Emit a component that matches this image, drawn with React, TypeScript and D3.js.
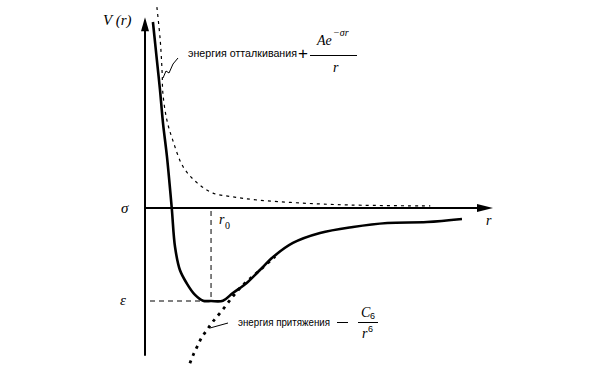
import React from "react";
import * as d3 from "d3";

// Full potential V(r) (solid curve) (r in units of r0, V in units of |ε|)
const solidR = [0.12, 0.18, 0.227, 0.273, 0.333, 0.405, 0.455, 0.53, 0.632, 0.758, 0.879, 1.0, 1.18, 1.33, 1.54, 1.74, 1.94, 2.24, 2.65, 3.15, 3.67, 4.27, 4.8];
const solidV = [2.0, 1.59, 1.27, 0.91, 0.55, 0.0, -0.42, -0.67, -0.81, -0.935, -0.997, -1.0, -0.997, -0.914, -0.806, -0.667, -0.527, -0.376, -0.269, -0.204, -0.161, -0.151, -0.118];

// Repulsion energy (thin dashed curve)
const repR = [0.18, 0.23, 0.26, 0.27, 0.33, 0.42, 0.58, 0.79, 1.03, 1.33, 1.7, 2.35, 3.11, 4.32];
const repV = [2.16, 1.81, 1.45, 1.24, 0.95, 0.73, 0.44, 0.27, 0.16, 0.12, 0.086, 0.054, 0.032, 0.022];

// Attraction energy (thick dotted curve)
const attR = [0.68, 0.73, 0.79, 0.86, 0.94, 1.03, 1.17, 1.32, 1.44, 1.59, 1.77, 1.97];
const attV = [-1.67, -1.58, -1.49, -1.39, -1.31, -1.22, -1.1, -0.96, -0.86, -0.76, -0.65, -0.52];

// Axis extents (data units)
const rAxis = [0, 5.27];
const vAxis = [-1.59, 2.05];

// Characteristic points
const r0 = 1.0;
const eps = -1.0;

const labelRep = "энергия отталкивания";
const labelAtt = "энергия притяжения";

const sans = "'Liberation Sans', Arial, sans-serif";
const serif = "'Liberation Serif', 'Times New Roman', serif";

export default function App() {
  const x = d3.scaleLinear().domain([0, 5.3]).range([145, 495]);
  const y = d3.scaleLinear().domain([0, -1]).range([208, 301]);
  const line = d3
    .line<[number, number]>()
    .x((d) => x(d[0]))
    .y((d) => y(d[1]))
    .curve(d3.curveCatmullRom.alpha(0.5));

  const solid = solidR.map((r, i) => [r, solidV[i]] as [number, number]);
  const rep = repR.map((r, i) => [r, repV[i]] as [number, number]);
  const att = attR.map((r, i) => [r, attV[i]] as [number, number]);

  const ax0 = x(0);
  const ay0 = y(0);
  const xEnd = x(rAxis[1]);
  const yTop = y(vAxis[1]);
  const yBot = y(vAxis[0]);

  return (
    <svg
      width={600}
      height={370}
      style={{ position: "absolute", left: 0, top: 0, background: "#fff" }}
    >
      <rect width={600} height={370} fill="#fff" />
      {/* axes */}
      <line x1={ax0} y1={yBot} x2={ax0} y2={yTop + 10} stroke="#000" strokeWidth={2} />
      <path d={`M${ax0},${yTop} L${ax0 - 4},${yTop + 14} L${ax0 + 4},${yTop + 14} Z`} fill="#000" />
      <line x1={ax0} y1={ay0} x2={xEnd - 10} y2={ay0} stroke="#000" strokeWidth={2} />
      <path d={`M${xEnd},${ay0} L${xEnd - 16},${ay0 - 4} L${xEnd - 16},${ay0 + 4} Z`} fill="#000" />

      {/* guide lines */}
      <line x1={x(r0)} y1={ay0 + 3} x2={x(r0)} y2={y(eps)} stroke="#000" strokeWidth={1} strokeDasharray="5,4" />
      <line x1={ax0 + 5} y1={y(eps)} x2={x(r0)} y2={y(eps)} stroke="#000" strokeWidth={1} strokeDasharray="5,4" />

      {/* repulsion */}
      <path d={line(rep) ?? ""} fill="none" stroke="#000" strokeWidth={1.2} strokeDasharray="3,4" />
      {/* attraction */}
      <path d={line(att) ?? ""} fill="none" stroke="#000" strokeWidth={2.8} strokeDasharray="3,5" />
      {/* total */}
      <path d={line(solid) ?? ""} fill="none" stroke="#000" strokeWidth={2.6} />

      {/* leader lines */}
      <path d="M163,78 L166,71 L169,73 L173,64 L178,58" fill="none" stroke="#000" strokeWidth={1} />
      <path d="M210,328 L228,323" fill="none" stroke="#000" strokeWidth={1} />

      {/* axis labels */}
      <text x={103} y={25} fontFamily={serif} fontStyle="italic" fontSize={15}>V (r)</text>
      <text x={121} y={213} fontFamily={serif} fontStyle="italic" fontSize={15}>σ</text>
      <text x={120} y={305} fontFamily={serif} fontStyle="italic" fontSize={15}>ε</text>
      <text x={219} y={224} fontFamily={serif} fontStyle="italic" fontSize={14}>r</text>
      <text x={225} y={229} fontFamily={serif} fontSize={10}>0</text>
      <text x={486} y={225} fontFamily={serif} fontStyle="italic" fontSize={14}>r</text>

      {/* repulsion label */}
      <text x={188} y={57} fontFamily={sans} fontSize={10.5} textLength={109} lengthAdjust="spacingAndGlyphs">{labelRep}</text>
      <text x={298} y={59} fontFamily={sans} fontSize={17}>+</text>
      <text x={317} y={45} fontFamily={serif} fontStyle="italic" fontSize={14}>Ae</text>
      <text x={333} y={36} fontFamily={serif} fontStyle="italic" fontSize={10}>−σr</text>
      <line x1={310} y1={55.5} x2={357} y2={55.5} stroke="#000" strokeWidth={1} />
      <text x={333} y={72} fontFamily={serif} fontStyle="italic" fontSize={14}>r</text>

      {/* attraction label */}
      <text x={238} y={326} fontFamily={sans} fontSize={10.5} textLength={92} lengthAdjust="spacingAndGlyphs">{labelAtt}</text>
      <line x1={337} y1={322.5} x2={348} y2={322.5} stroke="#000" strokeWidth={1} />
      <line x1={358} y1={322.5} x2={378} y2={322.5} stroke="#000" strokeWidth={1} />
      <text x={361} y={317} fontFamily={serif} fontStyle="italic" fontSize={14}>C</text>
      <text x={370} y={319} fontFamily={sans} fontSize={9}>6</text>
      <text x={362} y={338} fontFamily={serif} fontStyle="italic" fontSize={14}>r</text>
      <text x={368} y={332} fontFamily={sans} fontSize={9}>6</text>
    </svg>
  );
}
